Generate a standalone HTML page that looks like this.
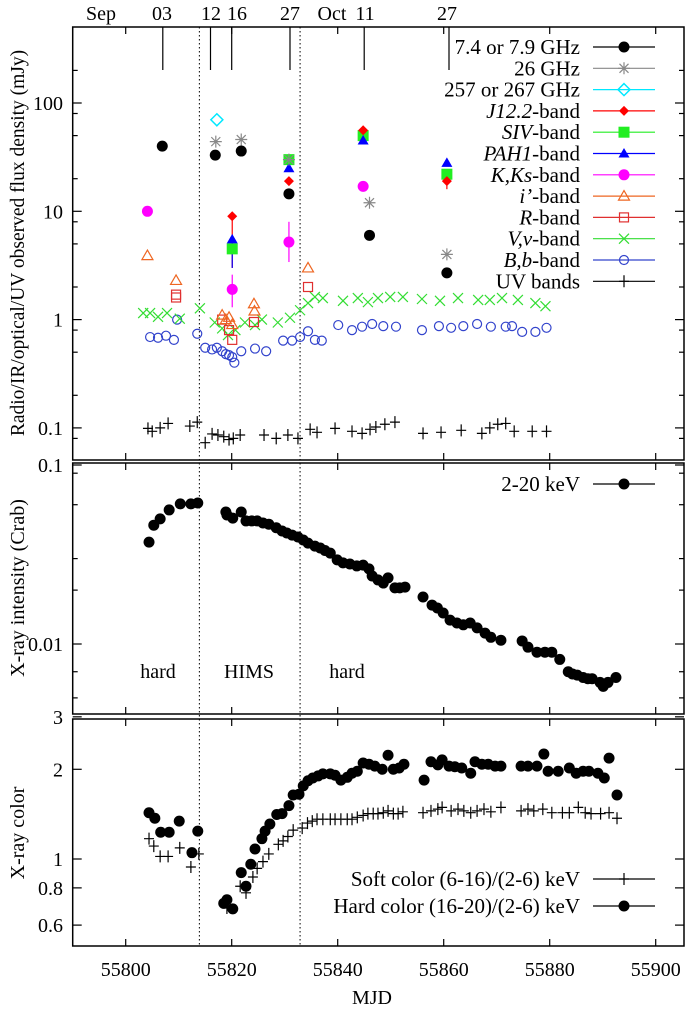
<!DOCTYPE html>
<html><head><meta charset="utf-8"><style>
html,body{margin:0;padding:0;background:#fff}
svg{display:block;font-family:"Liberation Serif",serif}
</style></head><body>
<svg id="chart" width="686" height="1011" viewBox="0 0 686 1011" xmlns="http://www.w3.org/2000/svg">
<g id="frames"></g>
<g id="marks"></g>
<text x="0" y="0" transform="translate(24,243) rotate(-90)" text-anchor="middle" font-size="19.5">Radio/IR/optical/UV observed flux density (mJy)</text>
<text x="0" y="0" transform="translate(24,588) rotate(-90)" text-anchor="middle" font-size="20">X-ray intensity (Crab)</text>
<text x="0" y="0" transform="translate(24,833) rotate(-90)" text-anchor="middle" font-size="20">X-ray color</text>
<text x="372" y="1004" text-anchor="middle" font-size="20">MJD</text>
<text x="158" y="678" text-anchor="middle" font-size="20">hard</text>
<text x="249" y="678" text-anchor="middle" font-size="20">HIMS</text>
<text x="347" y="678" text-anchor="middle" font-size="20">hard</text>
</svg>
<script>
// ---- data ----
const radioMjd=[55806.9,55816.9,55821.8,55830.8,55846.0,55860.6];
const radioVal=[40,33,36,14.5,6,2.7];
const g26Mjd=[55817.0,55821.8,55830.8,55846.0,55860.6];
const g26Val=[44,46,30,12,4];
const mmMjd=[55817.2];
const mmVal=[70];
const jMjd=[55820.1,55830.8,55844.8,55860.6];
const jVal=[9,19,56,19];
const sivMjd=[55820.1,55830.8,55844.8,55860.6];
const sivVal=[4.5,30,50,22];
const pahMjd=[55820.1,55830.8,55844.8,55860.6];
const pahVal=[5.5,25,45,28];
const kMjd=[55804.1,55820.1,55830.8,55844.8];
const kVal=[10,1.9,5.2,17];
const iMjd=[55804.1,55809.5,55818.2,55818.9,55819.5,55820.1,55824.2,55824.3,55834.4];
const iVal=[3.9,2.3,1.1,1.0,1.05,0.9,1.4,1.2,3.0];
const rMjd=[55809.5,55809.5,55818.2,55819.5,55820.1,55824.2,55834.4];
const rVal=[1.7,1.6,1.0,0.8,0.65,0.95,2.0];
const vMjd=[55803.3,55804.6,55806.1,55807.8,55810.2,55814.0,55816.8,55818.2,55819.3,55820.7,55822.5,55824.4,55825.7,55828.7,55831.0,55832.9,55834.4,55835.7,55837.2,55841.0,55843.8,55845.7,55847.6,55849.9,55852.3,55855.9,55859.3,55862.7,55866.5,55868.7,55871.0,55874.0,55877.3,55879.2];
const vVal=[1.15,1.15,1.06,1.15,1.02,1.27,0.94,0.83,0.72,0.80,0.94,0.89,1.00,0.94,1.04,1.22,1.42,1.62,1.58,1.49,1.58,1.45,1.58,1.62,1.62,1.55,1.49,1.58,1.52,1.52,1.58,1.52,1.42,1.33];
const bMjd=[55804.6,55806.1,55807.6,55809.1,55809.7,55813.5,55815.0,55816.3,55817.2,55818.2,55818.9,55819.5,55820.1,55820.5,55821.8,55824.4,55826.5,55829.7,55831.4,55832.9,55834.4,55835.7,55837.0,55840.1,55842.7,55844.6,55846.5,55848.6,55851.0,55855.9,55859.1,55861.4,55863.7,55866.3,55868.9,55871.7,55872.9,55874.8,55877.3,55879.4];
const bVal=[0.69,0.68,0.71,0.65,1.0,0.74,0.55,0.53,0.55,0.51,0.48,0.47,0.45,0.40,0.51,0.54,0.51,0.64,0.64,0.69,0.78,0.65,0.64,0.89,0.80,0.86,0.91,0.87,0.86,0.80,0.87,0.84,0.87,0.91,0.86,0.86,0.87,0.77,0.77,0.84];
const uvMjd=[55804.2,55805.0,55806.5,55808.0,55812.1,55813.5,55815.0,55816.3,55817.4,55818.5,55819.5,55820.3,55821.6,55826.1,55828.4,55830.6,55832.5,55834.8,55836.1,55839.5,55842.7,55844.6,55846.1,55847.2,55848.9,55850.8,55856.1,55859.5,55863.3,55867.2,55868.7,55870.2,55871.7,55873.3,55876.7,55879.4];
const uvVal=[0.099,0.093,0.1,0.11,0.104,0.113,0.073,0.088,0.086,0.083,0.078,0.08,0.086,0.086,0.08,0.086,0.08,0.097,0.091,0.099,0.093,0.089,0.097,0.102,0.108,0.113,0.089,0.091,0.095,0.089,0.1,0.108,0.11,0.093,0.093,0.093];
const xrMjd=[55804.4,55805.3,55806.5,55808.2,55810.3,55812.3,55813.6,55818.9,55819.1,55820.2,55821.8,55822.7,55823.8,55824.8,55825.9,55827.0,55828.4,55829.5,55830.4,55831.4,55832.5,55833.5,55834.4,55835.7,55836.7,55837.6,55838.6,55839.9,55841.0,55842.3,55843.6,55844.8,55845.9,55846.5,55847.6,55848.6,55849.5,55850.8,55851.7,55852.7,55856.1,55857.8,55858.8,55859.9,55861.2,55862.5,55863.7,55865.0,55866.3,55867.8,55868.9,55870.8,55874.8,55875.9,55877.6,55879.1,55880.4,55881.9,55883.5,55884.3,55885.2,55886.3,55887.2,55888.0,55889.5,55890.1,55891.0,55892.5];
const xrVal=[0.0371,0.0461,0.05,0.0561,0.0606,0.0606,0.0613,0.0546,0.0526,0.0505,0.0546,0.0487,0.0487,0.0487,0.0474,0.0467,0.0446,0.0428,0.0417,0.0406,0.0396,0.0381,0.0366,0.0352,0.0344,0.0333,0.0322,0.0295,0.0284,0.028,0.0273,0.0276,0.0263,0.024,0.0228,0.0219,0.0234,0.0206,0.0206,0.0208,0.0183,0.0165,0.0159,0.0149,0.0136,0.0131,0.0128,0.0131,0.0123,0.0115,0.0109,0.0105,0.0104,0.0096,0.009,0.009,0.009,0.0082,0.007,0.0068,0.0067,0.0065,0.0064,0.0064,0.0061,0.0058,0.0061,0.0065];
const hardMjd=[55804.4,55805.5,55806.6,55808.2,55810.1,55812.5,55813.6,55818.5,55819.1,55820.2,55821.8,55822.7,55823.6,55824.4,55825.7,55826.3,55827.2,55828.5,55829.5,55830.8,55831.6,55832.7,55833.5,55834.4,55835.3,55836.3,55837.2,55838.6,55839.5,55840.6,55841.8,55842.7,55843.7,55844.8,55845.9,55847.0,55848.4,55849.5,55850.5,55851.6,55852.5,55856.3,55857.6,55858.9,55859.7,55861.0,55862.1,55863.4,55865.1,55865.9,55867.2,55868.4,55869.7,55870.8,55874.6,55875.9,55877.6,55878.9,55879.7,55881.6,55883.7,55885.0,55886.3,55887.4,55889.1,55890.3,55891.2,55892.7];
const hardVal=[1.43,1.37,1.23,1.23,1.34,1.05,1.24,0.71,0.73,0.68,0.90,0.81,0.96,1.08,1.17,1.24,1.31,1.41,1.42,1.51,1.64,1.65,1.76,1.83,1.87,1.90,1.93,1.93,1.91,1.84,1.88,1.94,1.97,2.10,2.08,2.05,2.00,2.23,2.00,2.02,2.08,1.84,2.12,2.07,2.15,2.05,2.04,2.02,1.94,2.12,2.08,2.08,2.05,2.05,2.05,2.05,2.05,2.25,1.97,1.97,2.02,1.94,1.97,1.97,1.94,1.87,2.18,1.64];
const softMjd=[55804.4,55805.3,55806.5,55808.0,55810.2,55812.3,55813.8,55819.1,55821.6,55822.7,55824.0,55824.8,55825.9,55827.0,55828.8,55829.7,55830.6,55831.6,55833.3,55834.3,55835.2,55836.1,55837.2,55838.6,55839.5,55840.6,55841.8,55842.7,55843.7,55844.8,55845.7,55846.7,55847.6,55848.6,55849.5,55850.5,55851.4,55852.3,55856.1,55857.6,55858.9,55859.7,55861.4,55862.7,55863.8,55865.1,55866.3,55867.6,55868.9,55870.8,55874.6,55875.9,55877.0,55878.7,55880.4,55882.4,55883.7,55885.4,55886.7,55887.8,55889.6,55891.2,55892.7];
const softVal=[1.17,1.105,1.02,1.02,1.09,0.94,1.04,0.685,0.81,0.77,0.87,0.93,0.98,1.04,1.12,1.15,1.19,1.25,1.27,1.32,1.34,1.36,1.36,1.36,1.36,1.36,1.36,1.36,1.38,1.40,1.42,1.42,1.42,1.43,1.45,1.42,1.42,1.44,1.43,1.45,1.47,1.49,1.45,1.47,1.45,1.43,1.45,1.47,1.44,1.49,1.45,1.47,1.45,1.47,1.43,1.43,1.43,1.49,1.43,1.42,1.42,1.43,1.37];
const xTicks=[55800,55820,55840,55860,55880,55900];
const dateMjd=[55807,55816,55820,55831,55845,55861];
const dividerMjd=[55813.9,55832.9];
// ---- axes ----
const NS="http://www.w3.org/2000/svg";
const X=m=>72.7+(m-55790)*5.3;
const L=Math.log10;
const Y1=v=>103-(L(v)-2)*108.3;
const Y2=v=>644-(L(v)+2)*179;
const Y3=v=>859-L(v)*298;
const XL=72.7, XR=684;
const P=[{t:27,b:460},{t:463,b:714},{t:719,b:946}];
const frames=document.getElementById('frames');
const marks=document.getElementById('marks');
function el(tag,attrs,parent){const e=document.createElementNS(NS,tag);for(const k in attrs)e.setAttribute(k,attrs[k]);(parent||marks).appendChild(e);return e;}
function txt(s,x,y,anchor,parent,size){const t=el('text',{x:x,y:y,'text-anchor':anchor||'middle','font-size':size||20},parent||frames);t.textContent=s;return t;}
P.forEach((p,i)=>{
  const r=el('rect',{x:XL,y:p.t,width:XR-XL,height:p.b-p.t,fill:'none',stroke:'#000','stroke-width':1.5},frames);
  
  
  xTicks.forEach(m=>{
    el('line',{x1:X(m),x2:X(m),y1:p.b,y2:p.b-7,stroke:'#000','stroke-width':1.2},frames);
    el('line',{x1:X(m),x2:X(m),y1:p.t,y2:p.t+7,stroke:'#000','stroke-width':1.2},frames);
  });
});
xTicks.forEach(m=>{const t=txt(String(m),X(m),976);
  
  });
function yTicks(fn,majors,labels,minors){
  majors.forEach((v,i)=>{el('line',{x1:XL,x2:XL+9,y1:fn(v),y2:fn(v),stroke:'#000','stroke-width':1.2},frames);
    el('line',{x1:XR,x2:XR-9,y1:fn(v),y2:fn(v),stroke:'#000','stroke-width':1.2},frames);
    const t=txt(labels[i],63,fn(v)+7,'end');
    
    });
  minors.forEach(v=>{el('line',{x1:XL,x2:XL+5,y1:fn(v),y2:fn(v),stroke:'#000','stroke-width':1.2},frames);
    el('line',{x1:XR,x2:XR-5,y1:fn(v),y2:fn(v),stroke:'#000','stroke-width':1.2},frames);});
}
yTicks(Y1,[100,10,1,0.1],['100','10','1','0.1'],[200,80,50,20,8,5,2,0.8,0.5,0.2,0.08]);
yTicks(Y2,[0.1,0.01],['0.1','0.01'],[0.09,0.06,0.03,0.02,0.007,0.005]);
yTicks(Y3,[3,2,1,0.8,0.6],['3','2','1','0.8','0.6'],[]);
dateMjd.forEach(m=>el('line',{x1:X(m),x2:X(m),y1:27,y2:70,stroke:'#000','stroke-width':1.2},frames));
[['Sep',101],['03',162],['12',211],['16',237],['27',290],['Oct',332],['11',365],['27',447]].forEach(a=>{const t=txt(a[0],a[1],20);
  
  });
dividerMjd.forEach(m=>{const d=el('line',{x1:X(m),x2:X(m),y1:27,y2:946,stroke:'#000','stroke-width':1,'stroke-dasharray':'1.5,2.5'},frames);
  
  });
// ---- markers ----
function mk(type,cx,cy,col,name){
  let e;const s=5.5;
  if(type==='dot') e=el('circle',{cx:cx,cy:cy,r:s,fill:col});
  else if(type==='ocirc') e=el('circle',{cx:cx,cy:cy,r:4.5,fill:'none',stroke:col,'stroke-width':1.2});
  else if(type==='sq') e=el('rect',{x:cx-5.5,y:cy-5.5,width:11,height:11,fill:col});
  else if(type==='osq') e=el('rect',{x:cx-4.5,y:cy-4.5,width:9,height:9,fill:'none',stroke:col,'stroke-width':1.2});
  else if(type==='dia') e=el('path',{d:`M${cx},${cy-5}L${cx+5},${cy}L${cx},${cy+5}L${cx-5},${cy}Z`,fill:col});
  else if(type==='odia') e=el('path',{d:`M${cx},${cy-6}L${cx+6},${cy}L${cx},${cy+6}L${cx-6},${cy}Z`,fill:'none',stroke:col,'stroke-width':1.5});
  else if(type==='tri') e=el('path',{d:`M${cx},${cy-5.5}L${cx+5.5},${cy+4}L${cx-5.5},${cy+4}Z`,fill:col});
  else if(type==='otri') e=el('path',{d:`M${cx},${cy-5.5}L${cx+5.5},${cy+4}L${cx-5.5},${cy+4}Z`,fill:'none',stroke:col,'stroke-width':1.2});
  else if(type==='x') e=el('path',{d:`M${cx-5},${cy-5}L${cx+5},${cy+5}M${cx-5},${cy+5}L${cx+5},${cy-5}`,stroke:col,'stroke-width':1.2});
  else if(type==='plus') e=el('path',{d:`M${cx-5},${cy}L${cx+5},${cy}M${cx},${cy-6}L${cx},${cy+6}`,stroke:col,'stroke-width':1.2});
  else if(type==='star') e=el('path',{d:`M${cx-6},${cy}L${cx+6},${cy}M${cx},${cy-6}L${cx},${cy+6}M${cx-4.5},${cy-4.5}L${cx+4.5},${cy+4.5}M${cx-4.5},${cy+4.5}L${cx+4.5},${cy-4.5}`,stroke:col,'stroke-width':1.2});
  
  
  return e;
}
function series(ms,vs,fn,type,col,name){ms.forEach((m,i)=>mk(type,X(m),fn(vs[i]),col,name));}
el('line',{x1:X(kMjd[2]),x2:X(kMjd[2]),y1:Y1(8),y2:Y1(3.4),stroke:'#ff00ff','stroke-width':1.2});
el('line',{x1:X(kMjd[1]),x2:X(kMjd[1]),y1:Y1(2.6),y2:Y1(1.3),stroke:'#ff00ff','stroke-width':1.2});
el('line',{x1:X(jMjd[0]),x2:X(jMjd[0]),y1:Y1(jVal[0]),y2:Y1(3),stroke:'#ff0000','stroke-width':1.2});
el('line',{x1:X(pahMjd[0]),x2:X(pahMjd[0]),y1:Y1(pahVal[0]),y2:Y1(3),stroke:'#0000ff','stroke-width':1.2});
el('line',{x1:X(jMjd[3]),x2:X(jMjd[3]),y1:Y1(jVal[3]),y2:Y1(16),stroke:'#ff0000','stroke-width':1.2});
series(uvMjd,uvVal,Y1,'plus','#000','uv-point');
series(bMjd,bVal,Y1,'ocirc','#3344cc','b-band-point');
series(vMjd,vVal,Y1,'x','#33dd33','v-band-point');
series(rMjd,rVal,Y1,'osq','#e03030','r-band-point');
series(iMjd,iVal,Y1,'otri','#ee6622','i-band-point');
series(kMjd,kVal,Y1,'dot','#ff00ff','k-band-point');
series(sivMjd,sivVal,Y1,'sq','#22ee22','siv-band-point');
series(pahMjd,pahVal,Y1,'tri','#0000ff','pah1-band-point');
series(jMjd,jVal,Y1,'dia','#ff0000','j12-band-point');
series(mmMjd,mmVal,Y1,'odia','#00e8ff','mm-point');
series(g26Mjd,g26Val,Y1,'star','#888','26ghz-point');
series(radioMjd,radioVal,Y1,'dot','#000','radio-point');
series(xrMjd,xrVal,Y2,'dot','#000','xray-intensity-point');
series(softMjd,softVal,Y3,'plus','#000','soft-color-point');
series(hardMjd,hardVal,Y3,'dot','#000','hard-color-point');
// ---- legends ----
const legNames=['7.4 or 7.9 GHz','26 GHz','257 or 267 GHz','J12.2-band','SIV-band','PAH1-band','K,Ks-band','i\u2019-band','R-band','V,v-band','B,b-band','UV bands'];
const legTypes=['dot','star','odia','dia','sq','tri','dot','otri','osq','x','ocirc','plus'];
const legCols=['#000','#888','#00e8ff','#ff0000','#22ee22','#0000ff','#ff00ff','#ee6622','#e03030','#33dd33','#3344cc','#000'];
function legend(label,y,type,col,italicPart){
  const g=el('g',{},frames);
  
  
  const t=el('text',{x:580,y:y+7,'text-anchor':'end','font-size':21},g);
  if(italicPart){const ts=el('tspan',{'font-style':'italic'},t);ts.textContent=italicPart;const r=el('tspan',{},t);r.textContent=label.slice(italicPart.length);}
  else t.textContent=label;
  el('line',{x1:593,x2:655,y1:y,y2:y,stroke:col,'stroke-width':1.2},g);
  const m=mk(type,624,y,col,'legend-marker');g.appendChild(m);
}
const italics=[null,null,null,'J12.2','SIV','PAH1','K,Ks','i\u2019','R','V,v','B,b',null];
legNames.forEach((n,i)=>legend(n,47+i*21.3,legTypes[i],legCols[i],italics[i]));
legend('2-20 keV',484,'dot','#000',null);
legend('Soft color (6-16)/(2-6) keV',879,'plus','#000',null);
legend('Hard color (16-20)/(2-6) keV',906,'dot','#000',null);
</script>
</body></html>
